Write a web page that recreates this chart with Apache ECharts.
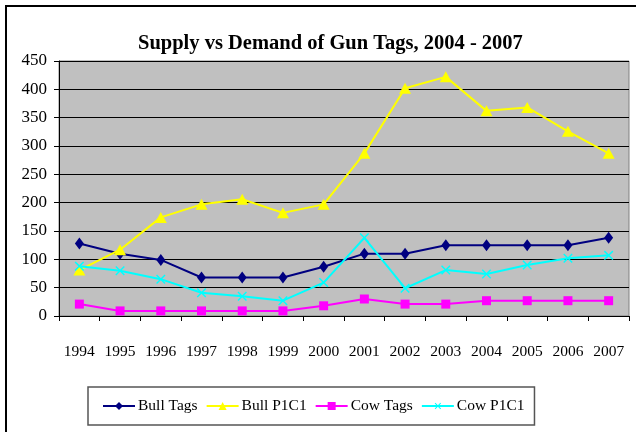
<!DOCTYPE html>
<html>
<head>
<meta charset="utf-8">
<script src="https://cdn.jsdelivr.net/npm/echarts@6/dist/echarts.min.js"></script>
<style>
  html, body { margin: 0; padding: 0; background: #fff; }
  #chart { width: 636px; height: 432px; }
</style>
</head>
<body>
<div id="chart"></div>
<script>
// 年份
const years = ['1994', '1995', '1996', '1997', '1998', '1999', '2000',
  '2001', '2002', '2003', '2004', '2005', '2006', '2007']
// 各系列数据
const bullTags = [128, 110, 99, 68, 68, 68, 87, 110, 110, 125, 125, 125, 125, 138]
const bullP1C1 = [81, 117, 174, 197, 206, 182, 197, 287, 402, 422, 362, 368, 326, 287]
const cowTags = [21, 9, 9, 9, 9, 9, 18, 30, 21, 21, 27, 27, 27, 27]
const cowP1C1 = [88, 80, 65, 41, 35, 27, 59, 138, 49, 81, 74, 90, 102, 107]
// y轴刻度
const yMin = 0
const yMax = 450
const yStep = 50

const serif = '"Liberation Serif", "Times New Roman", serif'
// X 形标记
const crossPath = 'path://M4.4,0H5.6V4.4H10V5.6H5.6V10H4.4V5.6H0V4.4H4.4Z'

const myChart = echarts.init(document.getElementById('chart'))

function line(name, data, color, symbol, size, rotate) {
  return {
    name: name,
    type: 'line',
    data: data,
    symbol: symbol,
    symbolSize: size,
    symbolRotate: rotate || 0,
    showAllSymbol: true,
    lineStyle: { color: color, width: 2 },
    itemStyle: { color: color },
    animation: false
  }
}

myChart.setOption({
  backgroundColor: '#ffffff',
  title: {
    text: 'Supply vs Demand of Gun Tags, 2004 - 2007',
    left: 133,
    top: 28,
    textStyle: { fontFamily: serif, fontWeight: 'bold', fontSize: 20.5, color: '#000' }
  },
  graphic: [{
    type: 'rect',
    shape: { x: 6, y: 6, width: 700, height: 500 },
    style: { fill: 'none', stroke: '#000', lineWidth: 2 },
    silent: true
  }],
  legend: {
    left: 88,
    top: 387,
    padding: [11, 10, 11, 14],
    itemGap: 8,
    itemWidth: 32,
    itemHeight: 10,
    borderColor: '#555',
    borderWidth: 1.5,
    textStyle: { fontFamily: serif, fontSize: 15.5, color: '#000', padding: [0, 0, 0, -2] },
    data: ['Bull Tags', 'Bull P1C1', 'Cow Tags', 'Cow P1C1']
  },
  grid: {
    left: 59,
    top: 61,
    right: 7,
    bottom: 116,
    show: true,
    backgroundColor: '#c0c0c0',
    borderColor: '#808080',
    borderWidth: 1
  },
  xAxis: {
    type: 'category',
    data: years,
    boundaryGap: true,
    axisLine: { lineStyle: { color: '#000', width: 1 } },
    axisTick: { show: true, length: 5, lineStyle: { color: '#000' } },
    axisLabel: { fontFamily: serif, fontSize: 15.5, color: '#000', margin: 28, interval: 0 }
  },
  yAxis: {
    type: 'value',
    min: yMin,
    max: yMax,
    interval: yStep,
    axisLine: { show: true, lineStyle: { color: '#000', width: 1 } },
    axisTick: { show: true, length: 5, lineStyle: { color: '#000' } },
    axisLabel: { fontFamily: serif, fontSize: 17, color: '#000', margin: 12 },
    splitLine: { show: true, lineStyle: { color: '#000', width: 1 } }
  },
  series: [
    line('Bull Tags', bullTags, '#000080', 'diamond', [9, 12]),
    line('Bull P1C1', bullP1C1, '#ffff00', 'triangle', [12, 11]),
    line('Cow Tags', cowTags, '#ff00ff', 'rect', [9, 9]),
    line('Cow P1C1', cowP1C1, '#00ffff', crossPath, [12, 12], 45)
  ]
})
</script>
</body>
</html>
